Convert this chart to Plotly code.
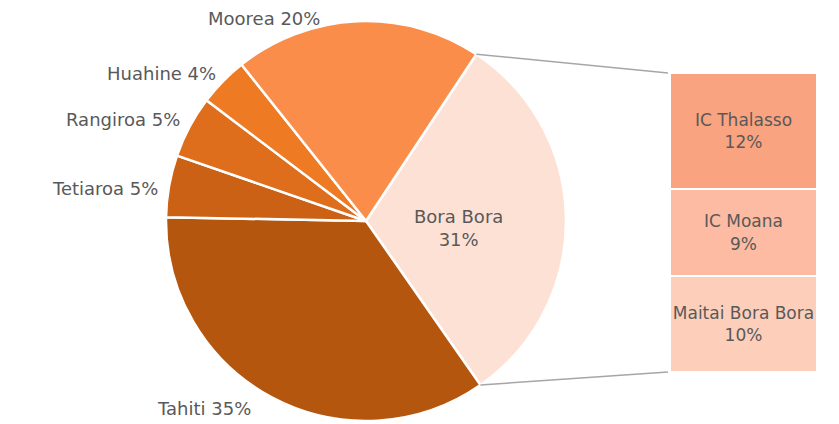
import math
import plotly.graph_objects as go

W, H = 839, 424

# ---- data ----
islands = ["Bora Bora", "Tahiti", "Tetiaroa", "Rangiroa", "Huahine", "Moorea"]
island_pct = [31, 35, 5, 5, 4, 20]
island_colors = ["#FDE1D5", "#B5560F", "#CB6115", "#DF6E1C", "#EE7B24", "#FB8D4B"]

hotels = ["Maitai Bora Bora", "IC Moana", "IC Thalasso"]   # bottom -> top
hotel_pct = [10, 9, 12]
hotel_colors = ["#FDCFBB", "#FCBBA2", "#F9A380"]

FONT = "DejaVu Sans"
TXT = "#595959"

def px(x):
    return x / W

def py(y):
    return 1 - y / H

# pie geometry (pixels)
cx, cy, r = 366, 221, 200
rotation = 33.5

fig = go.Figure()
fig.add_trace(go.Pie(
    labels=islands, values=island_pct, sort=False, direction="clockwise",
    rotation=rotation, textinfo="none", hoverinfo="label+percent",
    marker=dict(colors=island_colors, line=dict(color="#FFFFFF", width=2.5)),
    domain=dict(x=[px(cx - r), px(cx + r)], y=[py(cy + r), py(cy - r)]),
    showlegend=False,
))

# stacked bar of pie
bar_x0, bar_x1, bar_top, bar_bot = 670, 817, 73, 372
for name, val, col in zip(hotels, hotel_pct, hotel_colors):
    fig.add_trace(go.Bar(
        x=["Bora Bora"], y=[val], name=name,
        marker=dict(color=col, line=dict(color="#FFFFFF", width=2)),
        text=[f"{name}<br>{val}%"], textposition="inside",
        insidetextanchor="middle", constraintext="none",
        textfont=dict(family=FONT, size=17, color=TXT),
        showlegend=False, hoverinfo="name+y",
    ))

fig.update_layout(
    barmode="stack", bargap=0,
    xaxis=dict(domain=[px(bar_x0), px(bar_x1)], visible=False),
    yaxis=dict(domain=[py(bar_bot), py(bar_top)], range=[0, sum(hotel_pct)], visible=False),
)

# connector lines from Bora Bora slice edges to the bar
total = sum(island_pct)
a1 = math.radians(rotation)
a2 = math.radians(rotation + 360 * island_pct[0] / total)
p1 = (cx + r * math.sin(a1), cy - r * math.cos(a1))
p2 = (cx + r * math.sin(a2), cy - r * math.cos(a2))
for (sx, sy), ey in [(p1, bar_top), (p2, bar_bot)]:
    fig.add_shape(type="line", xref="paper", yref="paper",
                  x0=px(sx), y0=py(sy), x1=px(bar_x0 - 2), y1=py(ey),
                  line=dict(color="#A6A6A6", width=1.5))

# slice labels
label_pos = {
    "Moorea": (322, 18),
    "Huahine": (218, 73),
    "Rangiroa": (182, 120),
    "Tetiaroa": (160, 188),
    "Tahiti": (253, 408),
}
for name, val in zip(islands, island_pct):
    if name in label_pos:
        x, y = label_pos[name]
        fig.add_annotation(x=px(x), y=py(y), xref="paper", yref="paper",
                           text=f"{name} {val}%", showarrow=False,
                           xanchor="right", yanchor="middle",
                           font=dict(family=FONT, size=18, color=TXT))
fig.add_annotation(x=px(458), y=py(228), xref="paper", yref="paper",
                   text=f"{islands[0]}<br>{island_pct[0]}%", showarrow=False,
                   xanchor="center", yanchor="middle",
                   font=dict(family=FONT, size=18, color=TXT))

fig.update_layout(
    width=W, height=H, margin=dict(l=0, r=0, t=0, b=0),
    paper_bgcolor="white", plot_bgcolor="white",
)
fig.write_html("out.html", config={"displayModeBar": False},
               post_script="document.body.style.margin='0';document.body.style.overflow='hidden';")
